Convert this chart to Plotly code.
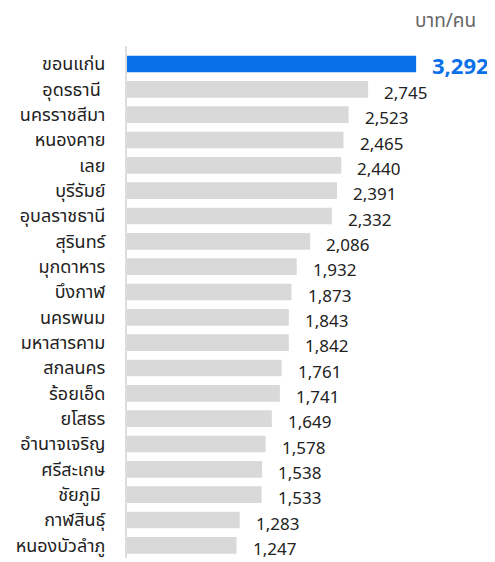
import plotly.graph_objects as go

provinces = ["ขอนแก่น", "อุดรธานี\u00a0", "นครราชสีมา", "หนองคาย", "เลย", "บุรีรัมย์",
             "อุบลราชธานี", "สุรินทร์", "มุกดาหาร", "บึงกาฬ", "นครพนม", "มหาสารคาม",
             "สกลนคร", "ร้อยเอ็ด", "ยโสธร", "อำนาจเจริญ", "ศรีสะเกษ", "ชัยภูมิ\u00a0",
             "กาฬสินธุ์", "หนองบัวลำภู"]
values = [3292, 2745, 2523, 2465, 2440, 2391, 2332, 2086, 1932, 1873,
          1843, 1842, 1761, 1741, 1649, 1578, 1538, 1533, 1283, 1247]
unit_label = "บาท/คน"

blue = "#0a70ea"
gray = "#d9d9d9"
font_family = "Noto Sans, Noto Sans Thai, sans-serif"

# page body has an 8px margin, so the figure is drawn 8px in from the corner
W, H = 487, 554
L, T, B = 119, 38, 4

colors = [blue if i == 0 else gray for i in range(len(values))]

fig = go.Figure(go.Bar(
    x=values, y=provinces, orientation="h",
    marker=dict(color=colors, line=dict(width=0)),
    width=0.66, hoverinfo="skip",
))

# value labels right of each bar
for i, (p, v) in enumerate(zip(provinces, values)):
    top = i == 0
    fig.add_annotation(
        x=v, y=p, text=f"<b>{v:,}</b>" if top else f"{v:,}",
        xanchor="left", yanchor="middle", xshift=14, yshift=-1 if top else -3,
        showarrow=False,
        font=dict(size=22 if top else 17, color=blue if top else "#222222",
                  family=font_family),
    )

# unit label in the top right corner
fig.add_annotation(
    x=(470 - L) / (W - L), y=1 + (T - 12) / (H - T - B),
    xref="paper", yref="paper", text=unit_label,
    showarrow=False, xanchor="right", yanchor="middle",
    font=dict(size=19, color="#666666", family=font_family),
)

fig.update_layout(
    width=W, height=H,
    margin=dict(l=L, r=0, t=T, b=B),
    paper_bgcolor="white", plot_bgcolor="white",
    showlegend=False,
    font=dict(family=font_family, color="#222222"),
    xaxis=dict(range=[0, 4190], visible=False, fixedrange=True, automargin=False),
    yaxis=dict(
        autorange="reversed", showgrid=False, zeroline=False,
        showline=True, linecolor="#dddddd", linewidth=2,
        ticks="", ticklabelstandoff=16, automargin=False,
        tickfont=dict(size=18, color="#222222", family=font_family),
        fixedrange=True,
    ),
)

fig.write_html("out.html")
